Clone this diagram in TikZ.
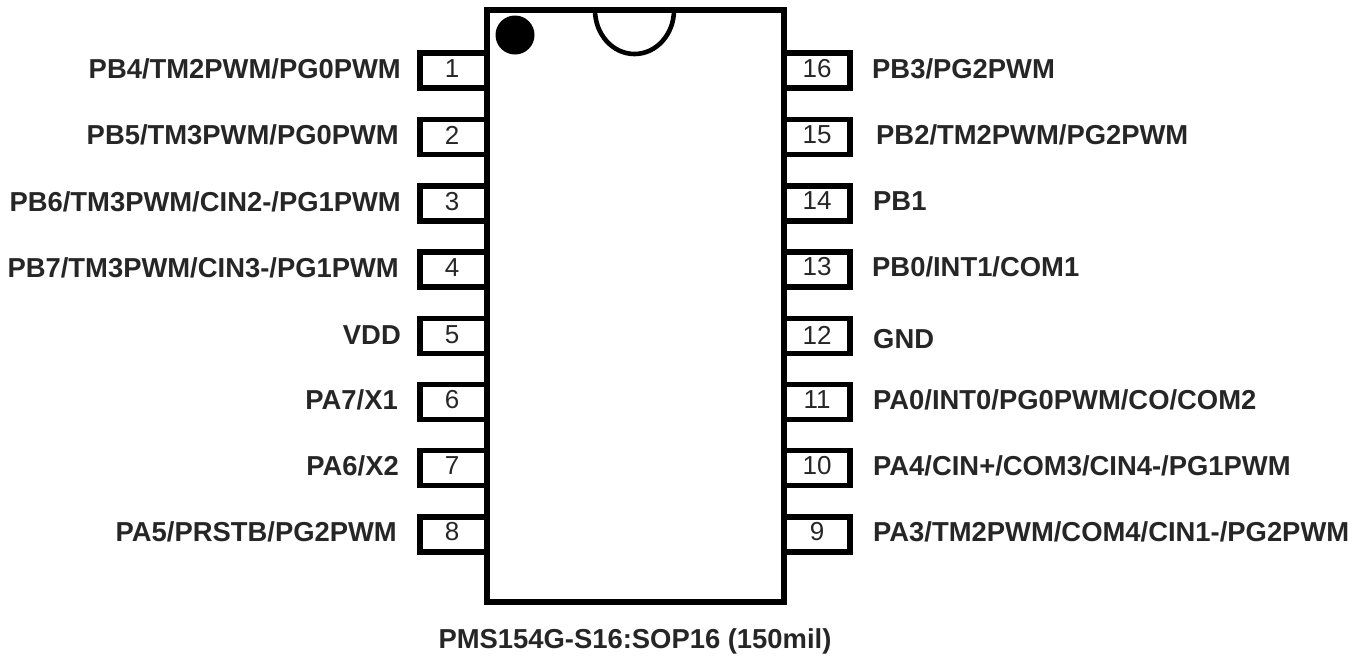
\documentclass[tikz,border=0pt]{standalone}
\usepackage{fontspec}
\setmainfont{Liberation Sans}
\usetikzlibrary{positioning}
\tikzset{
  pinbox/.style={draw,line width=5.6pt,fill=white,minimum width=72pt,minimum height=35pt,inner sep=0pt},
  pinnum/.style={font=\fontsize{26}{30}\selectfont,inner sep=0pt,text=black!85},
  pinlabel/.style={font=\bfseries\fontsize{27.4}{32}\selectfont,inner sep=0pt,text=black!85},
}
\begin{document}
\begin{tikzpicture}[x=1pt,y=-1pt]
    \useasboundingbox (0,0) rectangle (1368,657);
    % pins first, the body covers their inner side
    \foreach \n/\y/\b/\lab/\lx in {1/69/70.5/PB4\slash TM2PWM\slash PG0PWM/401,2/135/137/PB5\slash TM3PWM\slash PG0PWM/399,3/202/203.5/PB6\slash TM3PWM\slash CIN2-\slash PG1PWM/401,4/268/269.5/PB7\slash TM3PWM\slash CIN3-\slash PG1PWM/399,5/335/336/VDD/401,6/400/402/PA7\slash X1/398,7/466/468/PA6\slash X2/399,8/532/534.5/PA5\slash PRSTB\slash PG2PWM/397}{
      \node[pinbox] (l\n) at (456,\b) {};
      \node[pinnum] (n\n) at (452,\y) {\n};
      \node[pinlabel,anchor=east] (t\n) at (\lx,\y) {\lab};
    }
    \foreach \n/\y/\b/\ty/\lab/\lx in {16/69/70.5/69/PB3\slash PG2PWM/872,15/135/137/135/PB2\slash TM2PWM\slash PG2PWM/876,14/201/203.5/201/PB1/873,13/267/269.5/267/PB0\slash INT1\slash COM1/872,12/335/336/339/GND/873,11/400/402/400/PA0\slash INT0\slash PG0PWM\slash CO\slash COM2/873,10/466/468/466/PA4\slash CIN+\slash COM3\slash CIN4-\slash PG1PWM/873,9/532/534.5/532/PA3\slash TM2PWM\slash COM4\slash CIN1-\slash PG2PWM/873}{
      \node[pinbox] (r\n) at (814,\b) {};
      \node[pinnum] (n\n) at (817,\y) {\n};
      \node[pinlabel,anchor=west] (t\n) at (\lx,\ty) {\lab};
    }
    \node[draw,line width=6pt,fill=white,minimum width=297.5pt,minimum height=591.5pt,inner sep=0pt] (chip) at (635.5,306) {};
    \draw[line width=4.6pt] (595,10) arc[start angle=180,end angle=0,x radius=39.5,y radius=44];
    \node[circle,fill=black,minimum size=39pt,inner sep=0pt] (dot) at (515,35) {};
    \node[pinlabel] (title) at (635,641) {PMS154G-S16:SOP16 (150mil)};
  \end{tikzpicture}
\end{document}
